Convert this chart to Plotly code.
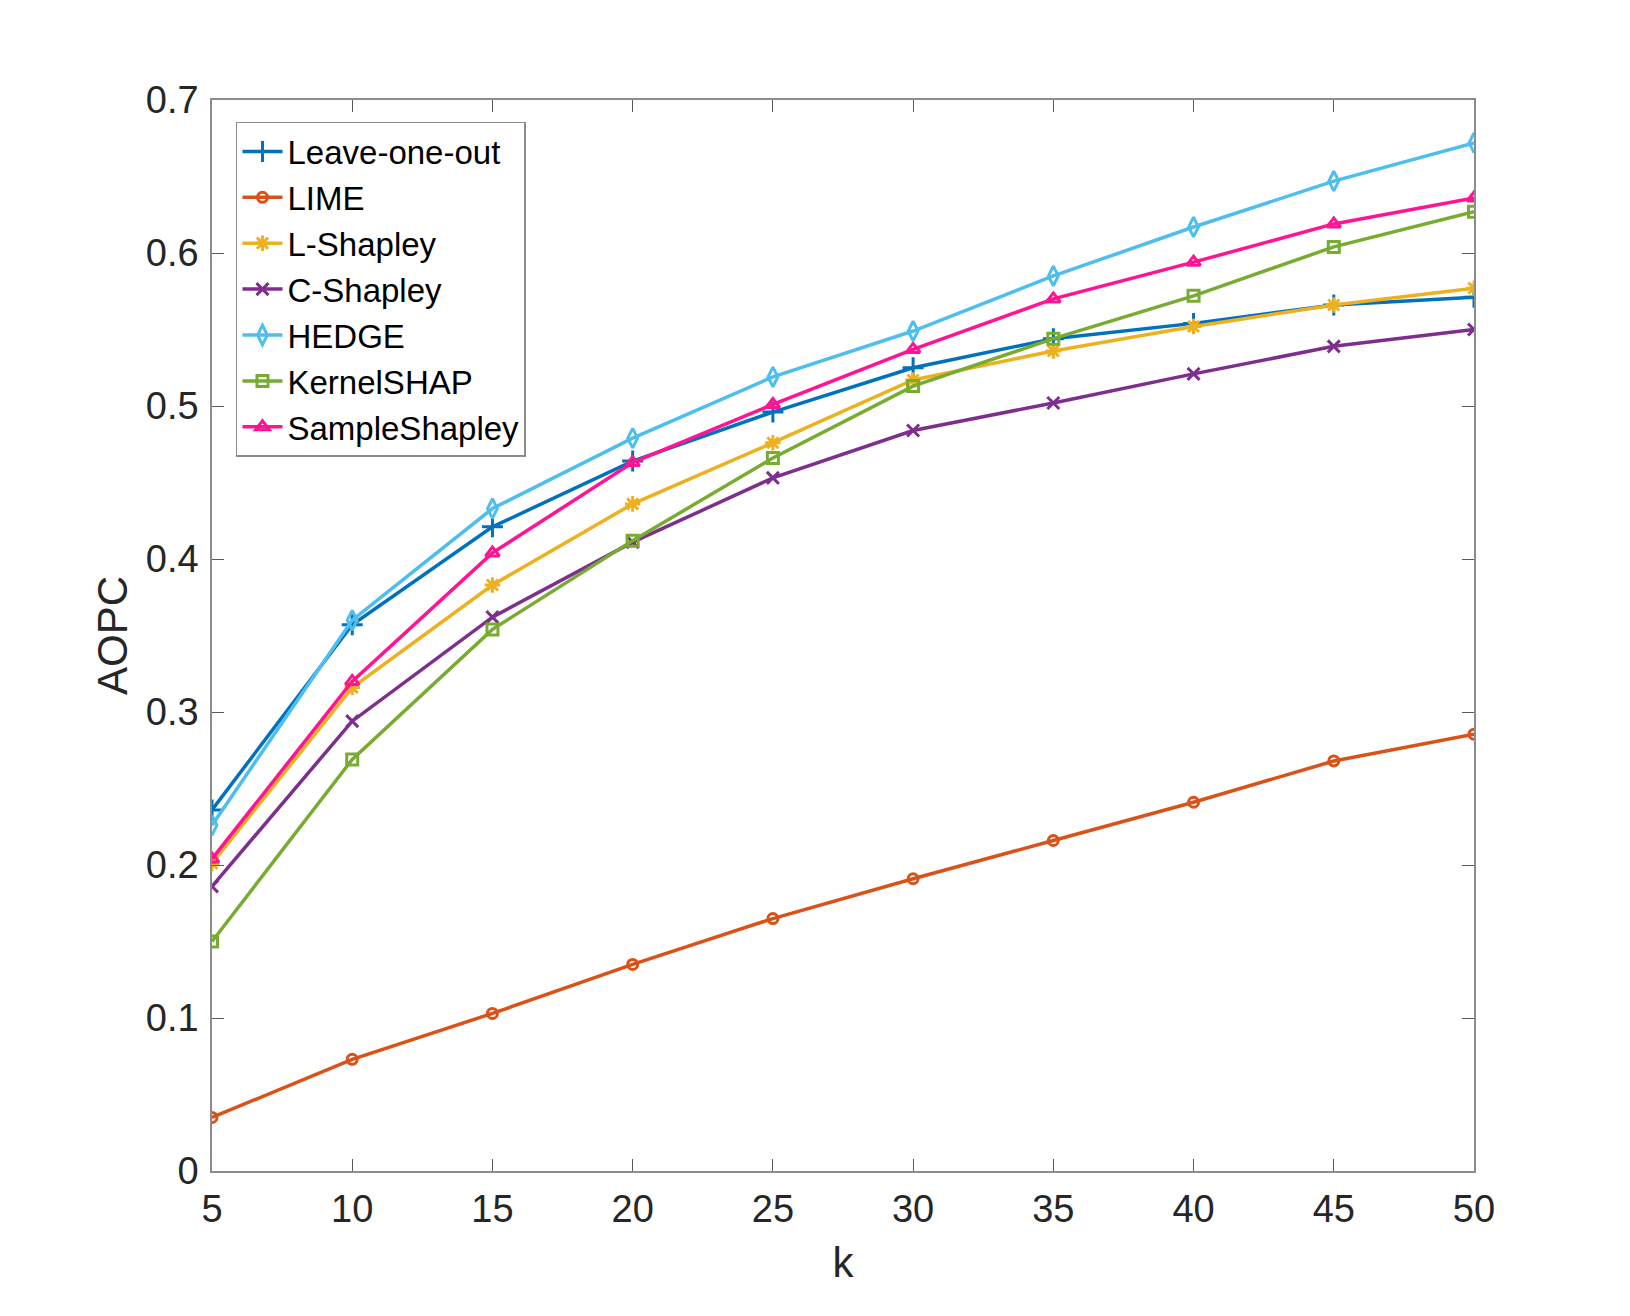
import plotly.graph_objects as go

k = [5, 10, 15, 20, 25, 30, 35, 40, 45, 50]

leave_one_out = [0.236, 0.357, 0.421, 0.464, 0.496, 0.525, 0.544, 0.554, 0.566, 0.571]
lime = [0.035, 0.073, 0.103, 0.135, 0.165, 0.191, 0.216, 0.241, 0.268, 0.2855]
l_shapley = [0.201, 0.316, 0.383, 0.436, 0.476, 0.517, 0.536, 0.552, 0.566, 0.577]
c_shapley = [0.186, 0.294, 0.362, 0.411, 0.453, 0.484, 0.502, 0.521, 0.539, 0.550]
hedge = [0.226, 0.360, 0.433, 0.479, 0.519, 0.549, 0.585, 0.617, 0.647, 0.672]
kernel_shap = [0.150, 0.269, 0.354, 0.412, 0.466, 0.513, 0.544, 0.572, 0.604, 0.627]
sample_shapley = [0.204, 0.320, 0.404, 0.463, 0.501, 0.537, 0.570, 0.594, 0.619, 0.636]

series = [
    ("Leave-one-out", leave_one_out, "#0072BD", "cross-thin-open", 15),
    ("LIME", lime, "#D95319", "circle-open", 10),
    ("L-Shapley", l_shapley, "#EDB120", "asterisk-open", 13),
    ("C-Shapley", c_shapley, "#7E2F8E", "x-thin-open", 12),
    ("HEDGE", hedge, "#4DBEEE", "diamond-tall-open", 14),
    ("KernelSHAP", kernel_shap, "#77AC30", "square-open", 11),
    ("SampleShapley", sample_shapley, "#FF1493", "triangle-up-open", 12),
]

fig = go.Figure()
for name, vals, color, sym, size in series:
    fig.add_trace(go.Scatter(
        x=k, y=vals, name=name, mode="lines+markers",
        line=dict(color=color, width=3.5),
        marker=dict(symbol=sym, size=size, color=color, line=dict(color=color, width=3)),
    ))

font_family = "Liberation Sans, Arial, Helvetica, sans-serif"
axis_common = dict(
    showline=True, linecolor="#8c8c8c", linewidth=1.5, mirror="ticks",
    ticks="inside", ticklen=12, tickwidth=1.2, tickcolor="#5a5a5a",
    showgrid=False, zeroline=False,
    tickfont=dict(family=font_family, size=38, color="#262626"),
)

fig.update_layout(
    width=1630, height=1316,
    margin=dict(l=204, r=164, t=92, b=153),
    paper_bgcolor="white", plot_bgcolor="white",
    font=dict(family=font_family, color="#262626"),
    showlegend=True,
    legend=dict(
        x=0.019, y=0.9795, xanchor="left", yanchor="top",
        bgcolor="white", bordercolor="#8c8c8c", borderwidth=1.5,
        font=dict(family=font_family, size=33, color="#000000"),
        tracegroupgap=0, itemwidth=40,
    ),
    xaxis=dict(
        range=[5, 50], tickvals=k, ticktext=[str(v) for v in k],
        title=dict(text="k", font=dict(family=font_family, size=42, color="#262626"), standoff=18),
        ticklabelstandoff=4,
        **axis_common,
    ),
    yaxis=dict(
        range=[0, 0.7], tickvals=[0, 0.1, 0.2, 0.3, 0.4, 0.5, 0.6, 0.7],
        ticktext=["0", "0.1", "0.2", "0.3", "0.4", "0.5", "0.6", "0.7"],
        title=dict(text="AOPC", font=dict(family=font_family, size=42, color="#262626"), standoff=5),
        ticklabelstandoff=4,
        **axis_common,
    ),
)

fig.write_html("out.html")
